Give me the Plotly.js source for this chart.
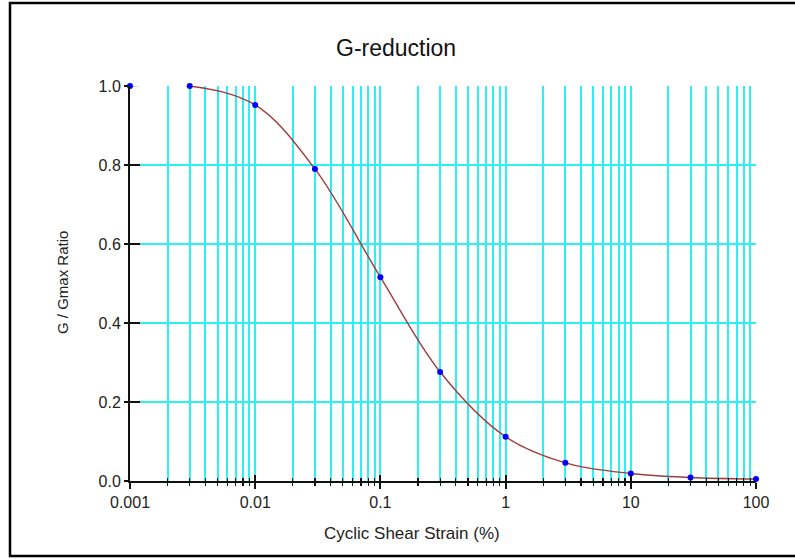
<!DOCTYPE html>
<html>
<head>
<meta charset="utf-8">
<script src="https://cdn.plot.ly/plotly-3.0.1.min.js"></script>
<style>
  html, body { margin: 0; padding: 0; background: #fff; }
  #chart { width: 795px; height: 559px; }
</style>
</head>
<body>
<div id="chart"></div>
<script>
// Data
const strain = [0.001, 0.003, 0.01, 0.03, 0.1, 0.3, 1, 3, 10, 30, 100];
const ratio  = [1.0, 1.0, 0.952, 0.79, 0.516, 0.276, 0.112, 0.046, 0.019, 0.009, 0.005];

const majorTicks = [0.001, 0.01, 0.1, 1, 10, 100];
const majorLabels = ['0.001', '0.01', '0.1', '1', '10', '100'];
const minorTicks = [];
[0.001, 0.01, 0.1, 1, 10].forEach(d => { for (let m = 2; m <= 9; m++) minorTicks.push(+(d * m).toPrecision(3)); });
const yTicks = [0, 0.2, 0.4, 0.6, 0.8, 1.0];
const yLabels = ['0.0', '0.2', '0.4', '0.6', '0.8', '1.0'];

const fam = 'Liberation Sans, Arial, sans-serif';
const tickFont = { family: fam, size: 16, color: '#222' };
const cyan = '#2cf0f4';
const gw = 2;

const traces = [
  {
    x: strain, y: ratio, type: 'scatter', mode: 'lines',
    line: { color: '#a03c3c', width: 1.4, shape: 'spline', smoothing: 1 },
    hoverinfo: 'skip', showlegend: false, cliponaxis: false
  },
  {
    x: strain, y: ratio, type: 'scatter', mode: 'markers',
    marker: { color: '#0000ff', size: 6 },
    showlegend: false, cliponaxis: false
  }
];

const layout = {
  width: 795, height: 559,
  margin: { l: 130, r: 39, t: 86, b: 78 },
  paper_bgcolor: '#fff', plot_bgcolor: '#fff',
  showlegend: false,
  font: tickFont,
  xaxis: {
    type: 'log', range: [-3, 2], autorange: false, fixedrange: true, zeroline: false,
    tickmode: 'array', tickvals: majorTicks, ticktext: majorLabels,
    ticks: 'outside', ticklen: 6, tickwidth: 2, tickcolor: '#111',
    showline: true, linecolor: '#111', linewidth: 2, layer: 'above traces',
    showgrid: true, gridcolor: cyan, gridwidth: gw,
    minor: { tickmode: 'array', tickvals: minorTicks, ticks: 'outside', ticklen: 3, tickwidth: 1.2,
             tickcolor: '#111', showgrid: true, gridcolor: cyan, gridwidth: gw },
    tickfont: tickFont, ticklabelstandoff: 0
  },
  xaxis2: {
    type: 'log', range: [-3, 2], autorange: false, fixedrange: true, zeroline: false,
    overlaying: 'x', anchor: 'y', side: 'bottom',
    tickmode: 'array', tickvals: majorTicks, showticklabels: false,
    ticks: 'inside', ticklen: 6, tickwidth: 2, tickcolor: '#111',
    minor: { tickmode: 'array', tickvals: minorTicks, ticks: 'inside', ticklen: 3, tickwidth: 1.2,
             tickcolor: '#111', showgrid: false },
    showline: false, showgrid: false
  },
  yaxis: {
    range: [0, 1], autorange: false, fixedrange: true, zeroline: false,
    tickmode: 'array', tickvals: yTicks, ticktext: yLabels,
    ticks: 'outside', ticklen: 4, tickwidth: 2, tickcolor: '#111',
    showline: true, linecolor: '#111', linewidth: 2,
    showgrid: true, gridcolor: cyan, gridwidth: gw,
    tickfont: tickFont
  },
  yaxis2: {
    overlaying: 'y', anchor: 'x', side: 'left',
    range: [0, 1], autorange: false, fixedrange: true, zeroline: false,
    tickmode: 'array', tickvals: yTicks, showticklabels: false,
    ticks: 'inside', ticklen: 10, tickwidth: 2, tickcolor: '#111',
    showline: false, showgrid: false
  },
  annotations: [
    { text: 'G-reduction', xref: 'paper', yref: 'paper', x: (396 - 130) / 626, y: (481 - 48) / 395,
      xanchor: 'center', yanchor: 'middle', showarrow: false,
      font: { family: fam, size: 23, color: '#111' } },
    { text: 'Cyclic Shear Strain (%)', xref: 'paper', yref: 'paper', x: (412 - 130) / 626, y: (481 - 533) / 395,
      xanchor: 'center', yanchor: 'middle', showarrow: false,
      font: { family: fam, size: 17, color: '#222' } },
    { text: 'G / Gmax Ratio', xref: 'paper', yref: 'paper', x: (62 - 130) / 626, y: (481 - 283) / 395,
      xanchor: 'center', yanchor: 'middle', showarrow: false, textangle: -90,
      font: { family: fam, size: 15, color: '#222' } }
  ],
  shapes: [
    { type: 'rect', xref: 'paper', yref: 'paper', layer: 'above',
      x0: (10 - 130) / 626, x1: (805 - 130) / 626, y0: (481 - 556) / 395, y1: (481 - 3) / 395,
      line: { color: '#000', width: 2.5 }, fillcolor: 'rgba(0,0,0,0)' }
  ]
};

// Invisible traces so the overlay tick axes are drawn
traces.unshift(
  { x: [strain[0]], y: [ratio[0]], xaxis: 'x2', yaxis: 'y', type: 'scatter', mode: 'markers',
    marker: { opacity: 0 }, hoverinfo: 'skip', showlegend: false },
  { x: [strain[0]], y: [ratio[0]], xaxis: 'x', yaxis: 'y2', type: 'scatter', mode: 'markers',
    marker: { opacity: 0 }, hoverinfo: 'skip', showlegend: false }
);

Plotly.newPlot('chart', traces, layout, { staticPlot: true, displayModeBar: false });
</script>
</body>
</html>
